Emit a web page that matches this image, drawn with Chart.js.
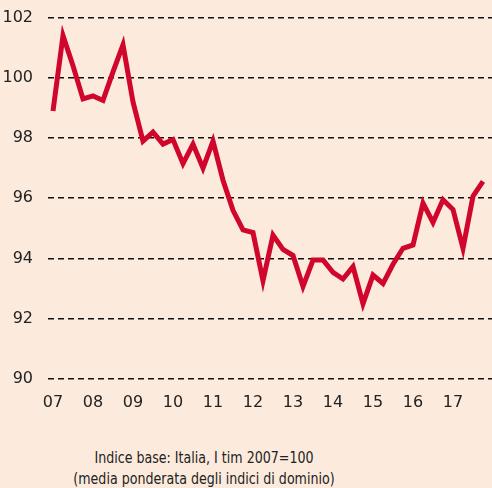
<!DOCTYPE html>
<html>
<head>
<meta charset="utf-8">
<script src="https://cdn.jsdelivr.net/npm/chart.js@4"></script>
<style>
  html, body { margin: 0; padding: 0; background: #fcebdc; overflow: hidden; }
  #wrap { position: relative; width: 492px; height: 488px; overflow: hidden; }
  #box { position: absolute; left: 0; top: -7px; width: 492px; height: 427px; }
  #note {
    position: absolute; left: 0; top: 447px; width: 408px;
    text-align: center; font-family: "DejaVu Sans", sans-serif;
    font-size: 16px; line-height: 21px; color: #222;
    transform: scaleX(0.79); transform-origin: 204px 0;
  }
</style>
</head>
<body>
<div id="wrap">
  <div id="box"><canvas id="indice"></canvas></div>
  <div id="note">Indice base: Italia, I tim 2007=100<br>(media ponderata degli indici di dominio)</div>
</div>
<script>
// anni (etichette asse x), un valore per trimestre dal I tim 2007 al IV tim 2017
const anni = ["07", "08", "09", "10", "11", "12", "13", "14", "15", "16", "17"];
const indice = [
  98.9, 101.4, 100.4, 99.3, 99.4, 99.25, 100.2, 101.1,
  99.2, 97.9, 98.2, 97.8, 97.95, 97.15, 97.8, 97.0,
  97.9, 96.6, 95.6, 94.95, 94.86, 93.26, 94.78, 94.3,
  94.1, 93.07, 93.95, 93.95, 93.54, 93.32, 93.73, 92.5,
  93.45, 93.17, 93.81, 94.34, 94.45, 95.84, 95.2, 95.95,
  95.63, 94.34, 96.07, 96.56
];
const yTicks = [90, 92, 94, 96, 98, 100, 102];

const font = { family: "'DejaVu Sans', sans-serif", size: 16 };

const ctx = document.getElementById("indice").getContext("2d");
const chart = new Chart(ctx, {
  type: "line",
  data: {
    datasets: [{
      data: indice.map((v, i) => ({ x: i, y: v })),
      borderColor: "#d0062c",
      borderWidth: 5,
      pointRadius: 0,
      tension: 0
    }]
  },
  options: {
    responsive: true,
    maintainAspectRatio: false,
    animation: false,
    layout: { padding: { top: 8, right: 0, left: 0, bottom: 0 } },
    plugins: { legend: { display: false }, tooltip: { enabled: false } },
    scales: {
      x: {
        type: "linear",
        min: -0.5,
        max: 43.9,
        afterBuildTicks: s => { s.ticks = anni.map((a, k) => ({ value: k * 4 })); },
        afterFit: s => { s.height = 41; },
        ticks: {
          autoSkip: false,
          maxRotation: 0,
          padding: 6,
          color: "#222",
          font: font,
          callback: v => anni[v / 4]
        },
        grid: { display: false },
        border: { display: false }
      },
      y: {
        min: 90,
        max: 102,
        afterBuildTicks: s => { s.ticks = yTicks.map(v => ({ value: v })); },
        afterFit: s => { s.width = 48; },
        ticks: { padding: 15, color: "#222", font: font },
        grid: { color: "#111", lineWidth: 1.6, drawTicks: false },
        border: { display: false, dash: [6, 4] }
      }
    }
  }
});
</script>
</body>
</html>
